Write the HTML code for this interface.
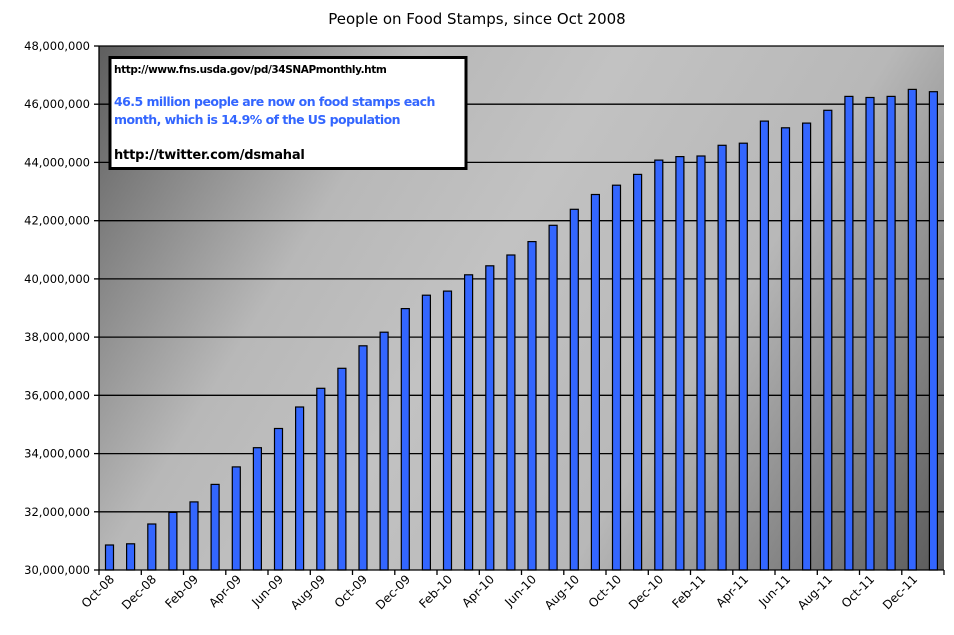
<!DOCTYPE html>
<html><head><meta charset="utf-8"><style>
html,body{margin:0;padding:0;background:#fff;}
svg{display:block;font-family:"DejaVu Sans","Liberation Sans",sans-serif;}
</style></head><body>
<svg width="954" height="635" viewBox="0 0 954 635" xmlns="http://www.w3.org/2000/svg">
<defs>
<linearGradient id="bg" x1="99" y1="46" x2="944" y2="570" gradientUnits="userSpaceOnUse">
<stop offset="0" stop-color="#5e5e5e"/>
<stop offset="0.28" stop-color="#b8b8b8"/>
<stop offset="0.45" stop-color="#c2c2c2"/>
<stop offset="0.68" stop-color="#b8b8b8"/>
<stop offset="1" stop-color="#5a5a5a"/>
</linearGradient>
</defs>
<text x="477" y="24" text-anchor="middle" font-size="15">People on Food Stamps, since Oct 2008</text>
<rect x="99" y="46" width="845" height="524" fill="url(#bg)"/>
<g stroke="#000" stroke-width="1.3">
<line x1="99" y1="46" x2="944" y2="46"/>
<line x1="99" y1="104.2" x2="944" y2="104.2"/>
<line x1="99" y1="162.4" x2="944" y2="162.4"/>
<line x1="99" y1="220.7" x2="944" y2="220.7"/>
<line x1="99" y1="278.9" x2="944" y2="278.9"/>
<line x1="99" y1="337.1" x2="944" y2="337.1"/>
<line x1="99" y1="395.3" x2="944" y2="395.3"/>
<line x1="99" y1="453.6" x2="944" y2="453.6"/>
<line x1="99" y1="511.8" x2="944" y2="511.8"/>
</g>
<g fill="#3366ff" stroke="#000" stroke-width="1.2">
<rect x="105.5" y="545.0" width="8" height="25.0"/>
<rect x="126.6" y="543.8" width="8" height="26.2"/>
<rect x="147.8" y="524.0" width="8" height="46.0"/>
<rect x="168.9" y="512.4" width="8" height="57.6"/>
<rect x="190.0" y="501.9" width="8" height="68.1"/>
<rect x="211.1" y="484.4" width="8" height="85.6"/>
<rect x="232.3" y="466.9" width="8" height="103.1"/>
<rect x="253.4" y="447.7" width="8" height="122.3"/>
<rect x="274.5" y="428.5" width="8" height="141.5"/>
<rect x="295.6" y="407.0" width="8" height="163.0"/>
<rect x="316.8" y="388.3" width="8" height="181.7"/>
<rect x="337.9" y="368.3" width="8" height="201.7"/>
<rect x="359.0" y="345.8" width="8" height="224.2"/>
<rect x="380.1" y="332.2" width="8" height="237.8"/>
<rect x="401.3" y="308.6" width="8" height="261.4"/>
<rect x="422.4" y="295.2" width="8" height="274.8"/>
<rect x="443.5" y="291.1" width="8" height="278.9"/>
<rect x="464.6" y="274.8" width="8" height="295.2"/>
<rect x="485.8" y="265.8" width="8" height="304.2"/>
<rect x="506.9" y="255.0" width="8" height="315.0"/>
<rect x="528.0" y="241.6" width="8" height="328.4"/>
<rect x="549.1" y="225.3" width="8" height="344.7"/>
<rect x="570.3" y="209.3" width="8" height="360.7"/>
<rect x="591.4" y="194.5" width="8" height="375.5"/>
<rect x="612.5" y="185.2" width="8" height="384.8"/>
<rect x="633.6" y="174.4" width="8" height="395.6"/>
<rect x="654.8" y="160.1" width="8" height="409.9"/>
<rect x="675.9" y="156.6" width="8" height="413.4"/>
<rect x="697.0" y="156.0" width="8" height="414.0"/>
<rect x="718.1" y="145.3" width="8" height="424.7"/>
<rect x="739.3" y="143.2" width="8" height="426.8"/>
<rect x="760.4" y="121.1" width="8" height="448.9"/>
<rect x="781.5" y="127.8" width="8" height="442.2"/>
<rect x="802.6" y="123.1" width="8" height="446.9"/>
<rect x="823.8" y="110.3" width="8" height="459.7"/>
<rect x="844.9" y="96.4" width="8" height="473.6"/>
<rect x="866.0" y="97.5" width="8" height="472.5"/>
<rect x="887.1" y="96.4" width="8" height="473.6"/>
<rect x="908.3" y="89.4" width="8" height="480.6"/>
<rect x="929.4" y="91.7" width="8" height="478.3"/>
</g>
<g stroke="#000" stroke-width="1.3">
<line x1="99" y1="46" x2="99" y2="570"/>
<line x1="99" y1="570" x2="944" y2="570"/>
<line x1="94" y1="46" x2="99" y2="46"/><line x1="94" y1="104.2" x2="99" y2="104.2"/><line x1="94" y1="162.4" x2="99" y2="162.4"/><line x1="94" y1="220.7" x2="99" y2="220.7"/><line x1="94" y1="278.9" x2="99" y2="278.9"/><line x1="94" y1="337.1" x2="99" y2="337.1"/><line x1="94" y1="395.3" x2="99" y2="395.3"/><line x1="94" y1="453.6" x2="99" y2="453.6"/><line x1="94" y1="511.8" x2="99" y2="511.8"/><line x1="94" y1="570" x2="99" y2="570"/>
<line x1="99" y1="570" x2="99" y2="575"/><line x1="141.3" y1="570" x2="141.3" y2="575"/><line x1="183.5" y1="570" x2="183.5" y2="575"/><line x1="225.8" y1="570" x2="225.8" y2="575"/><line x1="268" y1="570" x2="268" y2="575"/><line x1="310.3" y1="570" x2="310.3" y2="575"/><line x1="352.5" y1="570" x2="352.5" y2="575"/><line x1="394.8" y1="570" x2="394.8" y2="575"/><line x1="437" y1="570" x2="437" y2="575"/><line x1="479.3" y1="570" x2="479.3" y2="575"/><line x1="521.5" y1="570" x2="521.5" y2="575"/><line x1="563.8" y1="570" x2="563.8" y2="575"/><line x1="606" y1="570" x2="606" y2="575"/><line x1="648.3" y1="570" x2="648.3" y2="575"/><line x1="690.5" y1="570" x2="690.5" y2="575"/><line x1="732.8" y1="570" x2="732.8" y2="575"/><line x1="775" y1="570" x2="775" y2="575"/><line x1="817.3" y1="570" x2="817.3" y2="575"/><line x1="859.5" y1="570" x2="859.5" y2="575"/><line x1="901.8" y1="570" x2="901.8" y2="575"/><line x1="944" y1="570" x2="944" y2="575"/>
</g>
<g font-size="11.5" text-anchor="end">
<text x="90" y="50">48,000,000</text>
<text x="90" y="108.2">46,000,000</text>
<text x="90" y="166.4">44,000,000</text>
<text x="90" y="224.7">42,000,000</text>
<text x="90" y="282.9">40,000,000</text>
<text x="90" y="341.1">38,000,000</text>
<text x="90" y="399.3">36,000,000</text>
<text x="90" y="457.6">34,000,000</text>
<text x="90" y="515.8">32,000,000</text>
<text x="90" y="574">30,000,000</text>
</g>
<g font-size="12" text-anchor="end">
<text transform="translate(115,580) rotate(-45)">Oct-08</text>
<text transform="translate(157,580) rotate(-45)">Dec-08</text>
<text transform="translate(199,580) rotate(-45)">Feb-09</text>
<text transform="translate(242,580) rotate(-45)">Apr-09</text>
<text transform="translate(284,580) rotate(-45)">Jun-09</text>
<text transform="translate(326,580) rotate(-45)">Aug-09</text>
<text transform="translate(368,580) rotate(-45)">Oct-09</text>
<text transform="translate(411,580) rotate(-45)">Dec-09</text>
<text transform="translate(453,580) rotate(-45)">Feb-10</text>
<text transform="translate(495,580) rotate(-45)">Apr-10</text>
<text transform="translate(537,580) rotate(-45)">Jun-10</text>
<text transform="translate(580,580) rotate(-45)">Aug-10</text>
<text transform="translate(622,580) rotate(-45)">Oct-10</text>
<text transform="translate(664,580) rotate(-45)">Dec-10</text>
<text transform="translate(706,580) rotate(-45)">Feb-11</text>
<text transform="translate(749,580) rotate(-45)">Apr-11</text>
<text transform="translate(791,580) rotate(-45)">Jun-11</text>
<text transform="translate(833,580) rotate(-45)">Aug-11</text>
<text transform="translate(875,580) rotate(-45)">Oct-11</text>
<text transform="translate(918,580) rotate(-45)">Dec-11</text>
</g>
<rect x="110" y="57.5" width="356" height="111" fill="#fff" stroke="#000" stroke-width="3"/>
<text x="114" y="73" font-size="10.5" font-weight="bold" letter-spacing="-0.4">http://www.fns.usda.gov/pd/34SNAPmonthly.htm</text>
<text x="114" y="106" font-size="12.5" font-weight="bold" fill="#3366ff" letter-spacing="-0.55">46.5 million people are now on food stamps each</text>
<text x="114" y="124" font-size="12.5" font-weight="bold" fill="#3366ff" letter-spacing="-0.55">month, which is 14.9% of the US population</text>
<text x="114" y="159" font-size="13" font-weight="bold" letter-spacing="-0.2">http://twitter.com/dsmahal</text>
</svg>
</body></html>
